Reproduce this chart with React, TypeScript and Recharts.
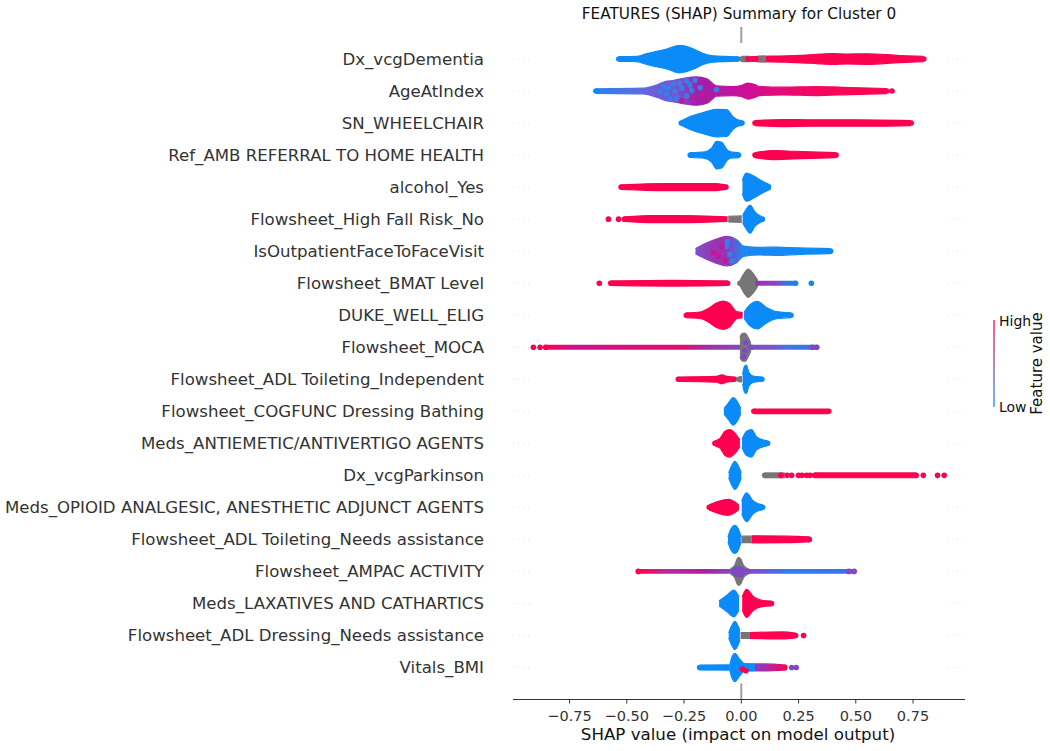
import React from "react";
import { ComposedChart, Area, Scatter, XAxis, YAxis, ReferenceLine } from "recharts";

const features = [
  "Dx_vcgDementia", "AgeAtIndex", "SN_WHEELCHAIR", "Ref_AMB REFERRAL TO HOME HEALTH", "alcohol_Yes",
  "Flowsheet_High Fall Risk_No", "IsOutpatientFaceToFaceVisit", "Flowsheet_BMAT Level", "DUKE_WELL_ELIG", "Flowsheet_MOCA",
  "Flowsheet_ADL Toileting_Independent", "Flowsheet_COGFUNC Dressing Bathing", "Meds_ANTIEMETIC/ANTIVERTIGO AGENTS", "Dx_vcgParkinson",
  "Meds_OPIOID ANALGESIC, ANESTHETIC ADJUNCT AGENTS", "Flowsheet_ADL Toileting_Needs assistance", "Flowsheet_AMPAC ACTIVITY",
  "Meds_LAXATIVES AND CATHARTICS", "Flowsheet_ADL Dressing_Needs assistance", "Vitals_BMI",
];
const xTicks = [-0.75, -0.5, -0.25, 0, 0.25, 0.5, 0.75];

const PINK = "#ff0051", BLUE = "#0a8bf8", GRAY = "#767676", PURPLE = "#8048c4";

// [SHAP value, half thickness of the swarm in row units]
const dementiaLow = [[-0.535, .075], [-0.457, .08], [-0.413, .17], [-0.37, .24], [-0.326, .31], [-0.268, .43], [-0.21, .32], [-0.166, .17], [-0.122, .1], [-0.07, .08], [-0.015, .07]];
const dementiaGrayA = [[0.002, .08], [0.035, .08]];
const dementiaGrayB = [[0.075, .09], [0.108, .09]];
const dementiaHigh = [[0.03, .07], [0.075, .08], [0.2, .1], [0.3, .13], [0.34, .15], [0.4, .17], [0.46, .155], [0.55, .165], [0.69, .11], [0.795, .08]];
const ageAll = [[-0.635, .07], [-0.43, .09], [-0.37, .19], [-0.33, .3], [-0.3, .33], [-0.25, .4], [-0.195, .44], [-0.15, .38], [-0.125, .24], [-0.11, .16], [-0.035, .14], [0.0, .17], [0.03, .25], [0.06, .2], [0.08, .14], [0.18, .12], [0.33, .14], [0.475, .11], [0.635, .08]];
const wheelLow = [[-0.262, .07], [-0.224, .2], [-0.166, .33], [-0.108, .43], [-0.064, .42], [-0.035, .19], [-0.012, .09], [0.003, .075]];
const wheelHigh = [[0.06, .08], [0.18, .11], [0.3, .1], [0.5, .1], [0.74, .08]];
const refLow = [[-0.223, .075], [-0.159, .1], [-0.13, .22], [-0.108, .43], [-0.086, .4], [-0.06, .15], [-0.04, .09], [-0.012, .08]];
const refHigh = [[0.06, .08], [0.14, .14], [0.227, .12], [0.412, .08]];
const alcoholHigh = [[-0.525, .07], [-0.33, .11], [-0.12, .11], [-0.068, .07]];
const alcoholLow = [[0.005, .2], [0.01, .32], [0.023, .44], [0.052, .35], [0.089, .2], [0.13, .05]];
const fallHigh = [[-0.51, .07], [-0.38, .11], [-0.27, .11], [-0.06, .07]];
const fallGray = [[-0.057, .09], [0.002, .1]];
const fallLow = [[0.006, .12], [0.023, .32], [0.038, .44], [0.06, .22], [0.09, .07]];
const visitAll = [[-0.2, .08], [-0.15, .26], [-0.108, .38], [-0.064, .46], [-0.02, .36], [0.009, .16], [0.08, .12], [0.154, .13], [0.256, .1], [0.39, .08]];
const bmatHigh = [[-0.57, .07], [-0.3, .09], [-0.06, .07]];
const bmatGray = [[-0.006, .07], [0.012, .3], [0.03, .44], [0.052, .3], [0.072, .09]];
const bmatTail = [[0.06, .08], [0.237, .08]];
const dukeHigh = [[-0.24, .075], [-0.18, .1], [-0.144, .21], [-0.108, .38], [-0.079, .44], [-0.05, .36], [-0.02, .11], [0.006, .08]];
const dukeLow = [[0.012, .09], [0.038, .33], [0.07, .43], [0.11, .24], [0.154, .11], [0.217, .075]];
const mocaLine = [[-0.855, .075], [0.33, .075]];
const mocaGray = [[-0.006, .3], [0.002, .42], [0.016, .44], [0.03, .3], [0.042, .12]];
const toiletHigh = [[-0.275, .07], [-0.108, .09], [-0.085, .14], [-0.064, .09], [-0.03, .07]];
const toiletGray = [[-0.01, .08], [0.004, .08]];
const toiletLow = [[0.006, .15], [0.014, .4], [0.022, .44], [0.034, .2], [0.055, .09], [0.09, .07]];
const cogLow = [[-0.076, .08], [-0.057, .25], [-0.035, .43], [-0.013, .25], [-0.002, .08]];
const cogHigh = [[0.055, .07], [0.38, .07]];
const antiHigh = [[-0.115, .08], [-0.093, .15], [-0.071, .38], [-0.052, .43], [-0.028, .32], [-0.006, .1]];
const antiLow = [[0.003, .12], [0.023, .38], [0.045, .43], [0.067, .2], [0.115, .075]];
const parkLow = [[-0.055, .08], [-0.042, .3], [-0.028, .44], [-0.013, .3], [0.0, .08]];
const parkGray = [[0.102, .075], [0.19, .075]];
const parkHigh = [[0.32, .075], [0.763, .075]];
const opioidHigh = [[-0.14, .08], [-0.108, .17], [-0.057, .25], [-0.01, .07]];
const opioidLow = [[0.002, .2], [0.023, .45], [0.052, .2], [0.093, .075]];
const needLow = [[-0.058, .08], [-0.047, .3], [-0.028, .44], [-0.006, .2], [-0.002, .08]];
const needGray = [[0, .1], [0.045, .1]];
const needHigh = [[0.045, .11], [0.2, .1], [0.297, .075]];
const ampacLine = [[-0.45, .075], [0.493, .075]];
const ampacGray = [[-0.047, .09], [-0.028, .2], [-0.02, .36], [-0.012, .44], [0.0, .36], [0.009, .2], [0.03, .08]];
const ampacCore = [[-0.042, .06], [-0.012, .16], [0.02, .06]];
const laxLow = [[-0.097, .08], [-0.064, .25], [-0.032, .42], [-0.01, .2]];
const laxHigh = [[0.004, .2], [0.023, .44], [0.052, .22], [0.089, .1], [0.132, .075]];
const dressLow = [[-0.055, .08], [-0.042, .3], [-0.028, .44], [-0.006, .15]];
const dressGray = [[-0.003, .09], [0.038, .09]];
const dressHigh = [[0.038, .09], [0.18, .11], [0.237, .075]];
const bmiLine = [[-0.182, .075], [-0.05, .08]];
const bmiTail = [[0, .11], [0.1, .11], [0.197, .075]];
const bmiLow = [[-0.05, .08], [-0.042, .3], [-0.028, .44], [-0.006, .25], [0.016, .11], [0.06, .09]];

// [row, thickness profile, fill] in painting order
const blobs: [number, number[][], string][] = [
  [0, dementiaLow, BLUE], [0, dementiaHigh, PINK], [0, dementiaGrayA, GRAY], [0, dementiaGrayB, GRAY],
  [1, ageAll, "url(#gradAge)"], [2, wheelLow, BLUE], [2, wheelHigh, PINK], [3, refLow, BLUE], [3, refHigh, PINK],
  [4, alcoholHigh, PINK], [4, alcoholLow, BLUE], [5, fallHigh, PINK], [5, fallGray, GRAY], [5, fallLow, BLUE],
  [6, visitAll, "url(#gradVisit)"], [7, bmatHigh, PINK], [7, bmatGray, GRAY], [7, bmatTail, "url(#gradBmat)"],
  [8, dukeHigh, PINK], [8, dukeLow, BLUE], [9, mocaLine, "url(#gradMoca)"], [9, mocaGray, GRAY],
  [10, toiletHigh, PINK], [10, toiletGray, GRAY], [10, toiletLow, BLUE], [11, cogLow, BLUE], [11, cogHigh, PINK],
  [12, antiHigh, PINK], [12, antiLow, BLUE], [13, parkLow, BLUE], [13, parkGray, GRAY], [13, parkHigh, PINK],
  [14, opioidHigh, PINK], [14, opioidLow, BLUE], [15, needGray, GRAY], [15, needHigh, PINK], [15, needLow, BLUE],
  [16, ampacLine, "url(#gradAmpac)"], [16, ampacGray, GRAY], [16, ampacCore, PURPLE], [17, laxLow, BLUE], [17, laxHigh, PINK],
  [18, dressGray, GRAY], [18, dressHigh, PINK], [18, dressLow, BLUE], [19, bmiLine, BLUE], [19, bmiTail, "url(#gradBmi)"], [19, bmiLow, BLUE],
];

const gradients: [string, [number, string][]][] = [
  ["gradAge", [[0, "#2a80f0"], [.15, "#5c6ce0"], [.2, "#6a60d8"], [.28, "#7c50cc"], [.35, "#a020a8"], [.5, "#c8109a"], [.6, "#de0c80"], [.72, "#f00868"], [.85, "#fb0455"], [1, "#ff0051"]]],
  ["gradVisit", [[0, "#7d50c8"], [.14, "#9a35b0"], [.225, "#a030b0"], [.29, "#5a60d8"], [.343, "#1f86f0"], [1, "#0a8bf8"]]],
  ["gradBmat", [[0, "#a030b0"], [.5, "#9040c0"], [.75, "#4070e0"], [1, "#0a8bf8"]]],
  ["gradMoca", [[0, "#ff0051"], [.1, "#d0108f"], [.3, "#d81080"], [.5, "#e00c75"], [.6, "#a030a8"], [.7, "#8845c0"], [.84, "#7a55c8"], [.9, "#3a7ae8"], [.97, "#3a70e8"], [1, "#7a50c8"]]],
  ["gradAmpac", [[0, "#ff0051"], [.15, "#b030a0"], [.3, "#b01c9c"], [.42, "#8845c0"], [.55, "#7a50d0"], [.7, "#2a80f0"], [1, "#3a70f0"]]],
  ["gradBmi", [[0, "#8845c0"], [.5, "#a030b0"], [.85, "#e01070"], [1, "#c02090"]]],
];

// Individually visible points: [SHAP value, row position]
const pinkPoints = [[.797, 0], [.03, 0], [.658, 1], [.635, 1], [.742, 2], [.06, 2], [.06, 3], [.414, 3], [-.525, 4], [-.067, 4], [-.58, 5], [-.536, 5], [-.51, 5], [-.62, 7], [-.57, 7], [-.06, 7], [-.24, 8], [-.908, 9], [-.879, 9], [-.855, 9], [-.275, 10], [-.03, 10], [.055, 11], [.382, 11], [-.115, 12], [.173, 13], [.2, 13], [.22, 13], [.25, 13], [.265, 13], [.285, 13], [.3, 13], [.32, 13], [.764, 13], [.795, 13], [.857, 13], [.886, 13], [-.14, 14], [.297, 15], [-.45, 16], [.132, 17], [.237, 18], [.272, 18], [.19, 19], [.005, 19.05], [.02, 19.1]];
const bluePoints = [[-.535, 0], [-.015, 0], [-.262, 2], [.003, 2], [-.223, 3], [-.012, 3], [.092, 5], [.39, 6], [.237, 7], [.306, 7], [.217, 8], [.09, 10], [.115, 12], [.093, 14], [-.182, 19], [-.16, 19], [-.145, 19], [-.635, 1]];
const grayPoints = [[0.002, 0], [-.006, 7], [.102, 13], [-.01, 10]];
const purplePoints = [[.33, 9], [.31, 9], [.016, 9.1], [.02, 8.85], [.01, 9.3], [.042, 9], [.22, 19], [.24, 19], [.493, 16], [.47, 16], [-.03, 16], [.0, 16.1], [.03, 16]];
const ageSpots = [[-.297, .78], [-.319, .91], [-.282, 1.22], [-.239, .68], [-.202, .66], [-.26, .91], [-.355, 1], [-.217, .97], [-.108, .95], [-.326, 1.1], [-.239, 1.15], [-.18, .9], [-.29, 1.0], [-.27, .75], [-.34, .85], [-.31, 1.25], [-.225, .8], [-.064, 5.85], [-.05, 6.1], [-.04, 6.3], [-.06, 5.7]];
const visitSpots = [[-.1, 6.15], [-.085, 5.85], [-.07, 6.3], [-.12, 6.05], [-.26, 1.3], [-.21, 1.2], [-.17, 1.1]];

const asPoints = (list: number[][]) => list.map(([x, y]) => ({ x, y }));
const asBand = (row: number, list: number[][]) => list.map(([x, h]) => ({ x, band: [row - h, row + h] }));
const dot = (fill: string) => (p: any) => <circle cx={p.cx} cy={p.cy} r={2.8} fill={fill} />;

const X_MIN = -0.997, X_MAX = 0.977;
const FONT = "'DejaVu Sans', sans-serif";
const rows = features.map((_, i) => i);

export default function App() {
  return (
    <div style={{ position: "absolute", left: 0, top: 0, width: 1050, height: 751, background: "#fff" }}>
      <ComposedChart width={1050} height={751} margin={{ top: 27, right: 85, bottom: 0, left: 0 }} style={{ fontFamily: FONT }}>
        <defs>
          {gradients.map(([id, stops]) => (
            <linearGradient key={id} id={id} x1="0" y1="0" x2="1" y2="0">
              {stops.map(([o, c]) => <stop key={o} offset={o} stopColor={c} />)}
            </linearGradient>
          ))}
          <linearGradient id="gradBar" x1="0" y1="1" x2="0" y2="0">
            <stop offset={0} stopColor="#66b6fb" />
            <stop offset={1} stopColor="#ff5c8e" />
          </linearGradient>
        </defs>
        <XAxis
          dataKey="x" type="number" domain={[X_MIN, X_MAX]} allowDataOverflow ticks={xTicks} height={51.5}
          tick={{ fontSize: 14.5, fill: "#333", fontFamily: FONT }} tickSize={4} tickMargin={7}
          stroke="#333" tickLine={{ stroke: "#333" }}
          tickFormatter={(v: number) => (v < 0 ? "\u2212" : "") + Math.abs(v).toFixed(2)}
        />
        <YAxis
          dataKey="y" type="number" domain={[-1, 20]} reversed allowDataOverflow ticks={rows} interval={0} width={513}
          axisLine={false} tickLine={false} tickSize={0} tickMargin={29}
          tick={{ fontSize: 16.6, fill: "#333", fontFamily: FONT }}
          tickFormatter={(v: number) => features[v] ?? ""}
        />
        <ReferenceLine segment={[{ x: 0, y: -1 }, { x: 0, y: -0.5 }]} stroke="#a0a0a0" strokeWidth={2} />
        <ReferenceLine segment={[{ x: 0, y: 19.5 }, { x: 0, y: 20 }]} stroke="#a0a0a0" strokeWidth={2} />
        {rows.map((r) => (
          <ReferenceLine key={"l" + r} segment={[{ x: X_MIN, y: r }, { x: -0.92, y: r }]} stroke="#e2e2e2" strokeDasharray="1 4" />
        ))}
        {rows.map((r) => (
          <ReferenceLine key={"r" + r} segment={[{ x: 0.9, y: r }, { x: X_MAX, y: r }]} stroke="#e2e2e2" strokeDasharray="1 4" />
        ))}
        {blobs.map(([row, prof, fill], i) => (
          <Area
            key={i} data={asBand(row, prof)} dataKey="band" type="monotone" fill={fill} fillOpacity={1}
            stroke={fill} strokeWidth={1.2} dot={false} activeDot={false} isAnimationActive={false}
          />
        ))}
        <Scatter data={asPoints(pinkPoints)} shape={dot(PINK)} isAnimationActive={false} />
        <Scatter data={asPoints(bluePoints)} shape={dot(BLUE)} isAnimationActive={false} />
        <Scatter data={asPoints(grayPoints)} shape={dot(GRAY)} isAnimationActive={false} />
        <Scatter data={asPoints(purplePoints)} shape={dot(PURPLE)} isAnimationActive={false} />
        <Scatter data={asPoints(ageSpots)} shape={dot("#3a7ce8")} isAnimationActive={false} />
        <Scatter data={asPoints(visitSpots)} shape={dot("#c01898")} isAnimationActive={false} />
        <text x={739} y={19} textAnchor="middle" fontSize={15.3} fill="#111" fontFamily={FONT}>FEATURES (SHAP) Summary for Cluster 0</text>
        <text x={738} y={740} textAnchor="middle" fontSize={16.66} fill="#111" fontFamily={FONT}>SHAP value (impact on model output)</text>
        <rect x={993} y={320} width={2} height={87} fill="url(#gradBar)" />
        <text x={999} y={326} fontSize={14} fill="#111" fontFamily={FONT}>High</text>
        <text x={999} y={412} fontSize={14} fill="#111" fontFamily={FONT}>Low</text>
        <text transform="translate(1042,363.5) rotate(-90)" textAnchor="middle" fontSize={15} fill="#111" fontFamily={FONT}>Feature value</text>
      </ComposedChart>
    </div>
  );
}
